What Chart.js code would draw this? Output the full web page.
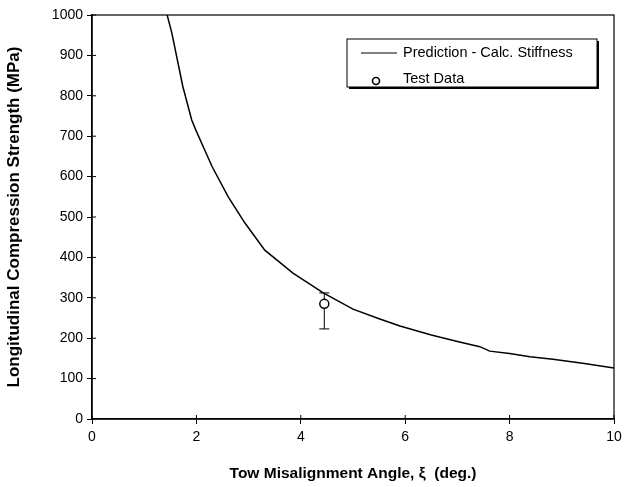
<!DOCTYPE html>
<html>
<head>
<meta charset="utf-8">
<script src="https://cdn.jsdelivr.net/npm/chart.js@4"></script>
<style>
  html, body { margin: 0; padding: 0; background: #fff; }
  #wrap { width: 629px; height: 487px; }
</style>
</head>
<body>
<div id="wrap"><canvas id="chart" width="629" height="487"></canvas></div>
<script>
// prediction curve
const predX = [1.44, 1.53, 1.74, 1.91, 2.0, 2.3, 2.61, 2.93, 3.31, 3.85, 4.43, 5.0, 5.5, 5.9, 6.5, 7.0, 7.43, 7.62, 8.0, 8.39, 8.83, 9.4, 10.0];
const predY = [1000, 955, 823, 740, 712, 625, 550, 485, 418, 361, 312, 272, 248, 230, 208, 192, 179, 168, 162, 154, 148, 138, 126];

// test data with error bar
const testX = [4.45];
const testY = [285];
const testLow = [223];
const testHigh = [312];

const xTicks = [0, 2, 4, 6, 8, 10];
const yTicks = [0, 100, 200, 300, 400, 500, 600, 700, 800, 900, 1000];

const predLabel = 'Prediction - Calc. Stiffness';
const testLabel = 'Test Data';

const FONT = "'Liberation Sans', Arial, sans-serif";

const ctx = document.getElementById('chart').getContext('2d');

// error bars, frame, inner tick halves and boxed legend
const extras = {
    id: 'extras',
    afterDatasetsDraw(chart) {
        const c = chart.ctx;
        const xs = chart.scales.x;
        const ys = chart.scales.y;
        const area = chart.chartArea;
        c.save();
        c.strokeStyle = '#000';
        c.lineWidth = 1;

        // error bars
        testX.forEach((x, i) => {
            const px = xs.getPixelForValue(x);
            const lo = ys.getPixelForValue(testLow[i]);
            const hi = ys.getPixelForValue(testHigh[i]);
            const py = ys.getPixelForValue(testY[i]);
            c.beginPath();
            c.moveTo(px, hi); c.lineTo(px, py - 4.5);
            c.moveTo(px, py + 4.5); c.lineTo(px, lo);
            c.moveTo(px - 5, hi); c.lineTo(px + 5, hi);
            c.moveTo(px - 5, lo); c.lineTo(px + 5, lo);
            c.stroke();
        });

        // frame
        c.lineWidth = 1.2;
        c.strokeRect(area.left, area.top, area.right - area.left, area.bottom - area.top);

        // inner halves of the cross ticks
        c.lineWidth = 1;
        c.beginPath();
        yTicks.forEach(v => {
            const py = ys.getPixelForValue(v);
            c.moveTo(area.left, py); c.lineTo(area.left + 4, py);
        });
        xTicks.forEach(v => {
            const px = xs.getPixelForValue(v);
            c.moveTo(px, area.bottom); c.lineTo(px, area.bottom - 4);
        });
        c.stroke();

        // legend
        const lx = 347, ly = 39, lw = 250, lh = 48;
        c.fillStyle = '#000';
        c.fillRect(lx + 2, ly + 2, lw, lh);
        c.fillStyle = '#fff';
        c.fillRect(lx, ly, lw, lh);
        c.lineWidth = 1;
        c.strokeRect(lx, ly, lw, lh);

        c.lineWidth = 1.2;
        c.beginPath();
        c.moveTo(361, 53); c.lineTo(397, 53);
        c.stroke();
        c.beginPath();
        c.arc(376, 81, 3.5, 0, Math.PI * 2);
        c.lineWidth = 1.6;
        c.stroke();

        c.fillStyle = '#000';
        c.font = '14.5px ' + FONT;
        c.textBaseline = 'middle';
        c.textAlign = 'left';
        c.fillText(predLabel, 403, 53);
        c.fillText(testLabel, 403, 79);
        c.restore();
    }
};

new Chart(ctx, {
    type: 'scatter',
    data: {
        datasets: [
            {
                label: predLabel,
                data: predX.map((x, i) => ({ x: x, y: predY[i] })),
                showLine: true,
                borderColor: '#000',
                borderWidth: 1.5,
                pointRadius: 0,
                tension: 0,
                fill: false,
            },
            {
                label: testLabel,
                data: testX.map((x, i) => ({ x: x, y: testY[i] })),
                showLine: false,
                pointStyle: 'circle',
                pointRadius: 4.5,
                pointBorderWidth: 1.5,
                pointBorderColor: '#000',
                pointBackgroundColor: 'rgba(255, 255, 255, 0)',
            }
        ]
    },
    options: {
        responsive: false,
        animation: false,
        layout: {
            padding: { top: 15, right: 15, left: 0, bottom: 0 }
        },
        scales: {
            x: {
                type: 'linear',
                min: 0,
                max: 10,
                afterBuildTicks: (scale) => { scale.ticks = xTicks.map(v => ({ value: v })); },
                afterFit: (scale) => { scale.height = 68; },
                border: { color: '#000', width: 1.5 },
                grid: {
                    drawOnChartArea: false,
                    color: '#000',
                    tickLength: 5,
                },
                ticks: {
                    color: '#000',
                    font: { family: FONT, size: 14 },
                    padding: 5,
                    callback: (v) => String(v),
                },
                title: {
                    display: true,
                    text: 'Tow Misalignment Angle, \u03BE  (deg.)',
                    color: '#000',
                    font: { family: FONT, size: 15.5, weight: 'bold' },
                    padding: { top: 6 },
                }
            },
            y: {
                type: 'linear',
                min: 0,
                max: 1000,
                afterBuildTicks: (scale) => { scale.ticks = yTicks.map(v => ({ value: v })); },
                afterFit: (scale) => { scale.width = 92; },
                border: { color: '#000', width: 1.5 },
                grid: {
                    drawOnChartArea: false,
                    color: '#000',
                    tickLength: 5,
                },
                ticks: {
                    color: '#000',
                    font: { family: FONT, size: 14 },
                    padding: 4,
                    callback: (v) => String(v),
                },
                title: {
                    display: true,
                    text: 'Longitudinal Compression Strength (MPa)',
                    color: '#000',
                    font: { family: FONT, size: 17, weight: 'bold' },
                    padding: { bottom: 6 },
                }
            }
        },
        plugins: {
            legend: { display: false },
            tooltip: { enabled: false },
        }
    },
    plugins: [extras]
});
</script>
</body>
</html>
